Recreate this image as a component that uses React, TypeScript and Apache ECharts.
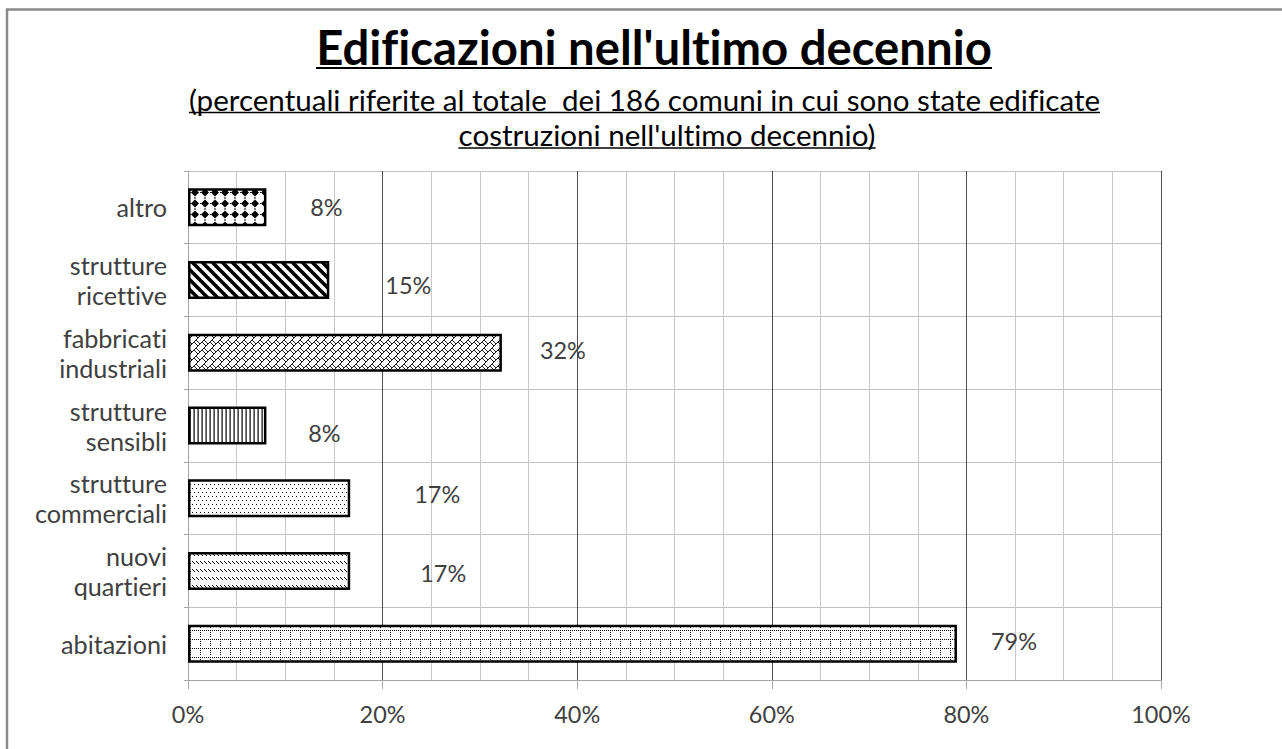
import React, { useEffect, useRef } from "react";
import * as echarts from "echarts";

// ---- data ----
const categories = [
  "altro",
  "strutture\nricettive",
  "fabbricati\nindustriali",
  "strutture\nsensibli",
  "strutture\ncommerciali",
  "nuovi\nquartieri",
  "abitazioni",
];
const values = [8.06, 14.52, 32.26, 8.06, 16.67, 16.67, 79.03];
const axisMin = 0;
const axisMax = 100;
const axisStep = 20;
const titleText = "Edificazioni nell'ultimo decennio";
const subtitleLine1 = "(percentuali riferite al totale  dei 186 comuni in cui sono state edificate";
const subtitleLine2 = "costruzioni nell'ultimo decennio)";

// ---- styling ----
const FONT = "Lato";
const labelNudges: [number, number][] = [
  [60, 0],
  [79, 5],
  [61, -3],
  [58, 7],
  [87, -4],
  [93, 2],
  [57, -3],
];

function svgUrl(w: number, h: number, body: string) {
  const s = `<svg xmlns="http://www.w3.org/2000/svg" width="${w}" height="${h}" viewBox="0 0 ${w} ${h}"><rect width="${w}" height="${h}" fill="#fff"/>${body}</svg>`;
  return "data:image/svg+xml;charset=utf-8," + encodeURIComponent(s);
}
function pat(w: number, h: number, body: string) {
  return { image: svgUrl(w, h, body), repeat: "repeat", imageWidth: w, imageHeight: h };
}

const patterns = [
  // diamonds
  pat(10, 11, `<path d="M5 1.6 L9 5.5 L5 9.4 L1 5.5Z" fill="#000"/><rect x="0" y="5" width="1" height="1" fill="#000"/><rect x="4.5" y="0" width="1" height="1" fill="#000"/><rect x="4.5" y="10" width="1" height="1" fill="#000"/>`),
  // wide downward diagonal
  pat(10, 10, `<path d="M-2 -2 L12 12 M-2 8 L2 12 M8 -2 L12 2" stroke="#000" stroke-width="3.6"/>`),
  // diagonal brick
  pat(8, 8, `<path d="M-1 9 L9 -1 M-1 1 L1 -1 M7 9 L9 7 M4 4 L8 8 M2 -2 L6 2 M2 6 L6 10 M4 -4 L8 0 M-4 4 L0 8" stroke="#000" stroke-width="0.9" fill="none"/>`),
  // vertical lines
  pat(4, 4, `<rect x="1.5" y="0" width="1.2" height="4" fill="#000"/>`),
  // sparse dots
  pat(8, 8, `<rect x="0" y="0" width="1" height="1" fill="#000"/><rect x="4" y="0" width="1" height="1" fill="#000"/><rect x="2" y="4" width="1" height="1" fill="#000"/><rect x="6" y="4" width="1" height="1" fill="#000"/>`),
  // dashed downward diagonal
  pat(4, 8, `<path d="M0 1 L3 4" stroke="#000" stroke-width="1"/>`),
  // dotted grid
  pat(10, 9, `<rect x="0" y="0" width="1" height="1" fill="#000"/><rect x="2" y="0" width="1" height="1" fill="#000"/><rect x="4" y="0" width="1" height="1" fill="#000"/><rect x="6" y="0" width="1" height="1" fill="#000"/><rect x="8" y="0" width="1" height="1" fill="#000"/><rect x="0" y="2" width="1" height="1" fill="#000"/><rect x="0" y="4" width="1" height="1" fill="#000"/><rect x="0" y="6" width="1" height="1" fill="#000"/>`),
];

function measure(text: string, size: number, weight: string) {
  const ctx = document.createElement("canvas").getContext("2d")!;
  ctx.font = `${weight} ${size}px ${FONT}`;
  return ctx.measureText(text).width;
}
function fit(text: string, target: number, weight: string) {
  return (40 * target) / measure(text, 40, weight);
}

export default function App() {
  const ref = useRef<HTMLDivElement>(null);
  useEffect(() => {
    if (!ref.current) return;
    const chart = echarts.init(ref.current, undefined, { renderer: "svg" });

    const titleSize = fit(titleText, 676, "bold");
    const subSize = fit(subtitleLine1, 911, "normal");
    const catSize = fit("abitazioni", 106, "normal");
    const axSize = fit("80%", 46, "normal");

    const sub2W = measure(subtitleLine2, subSize, "normal");
    const sub2C = 667;

    chart.setOption({
      animation: false,
      backgroundColor: "#fff",
      grid: { left: 188, right: 121, top: 171, bottom: 69, containLabel: false },
      xAxis: {
        type: "value",
        min: axisMin,
        max: axisMax,
        interval: axisStep,
        axisLine: { show: true, lineStyle: { color: "#a6a6a6", width: 1 } },
        axisTick: { show: true, length: 9, lineStyle: { color: "#a6a6a6" } },
        axisLabel: {
          formatter: "{value}%",
          color: "#404040",
          fontSize: axSize,
          fontFamily: FONT,
          margin: 22,
        },
        splitLine: { show: true, showMinLine: false, lineStyle: { color: "#4d4d4d", width: 1 } },
        minorTick: { show: false, splitNumber: 4 },
        minorSplitLine: { show: true, lineStyle: { color: "#c8c8c8", width: 1 } },
      },
      yAxis: {
        type: "category",
        data: categories,
        inverse: true,
        axisLine: { show: true, lineStyle: { color: "#a6a6a6", width: 1 } },
        axisTick: { show: true, length: 4, lineStyle: { color: "#a6a6a6" } },
        axisLabel: {
          color: "#404040",
          fontSize: catSize,
          fontFamily: FONT,
          lineHeight: 30,
          margin: 21,
          align: "right",
        },
        splitLine: { show: true, lineStyle: { color: "#c0c0c0", width: 1 } },
      },
      series: [
        {
          type: "bar",
          barWidth: 38,
          silent: true,
          data: values.map((v, i) => ({
            value: v,
            itemStyle: { color: patterns[i], borderColor: "#000", borderWidth: 2.5 },
            label: { offset: labelNudges[i] },
          })),
          label: {
            show: true,
            position: "right",
            distance: 0,
            align: "center",
            verticalAlign: "middle",
            formatter: (p: any) => Math.round(p.value) + "%",
            color: "#404040",
            fontSize: axSize,
            fontFamily: FONT,
          },
        },
      ],
      graphic: [
        {
          type: "rect",
          silent: true,
          shape: { x: 7, y: 9.5, width: 1400, height: 900 },
          style: { fill: "none", stroke: "#8a8a8a", lineWidth: 2.5 },
        },
        {
          type: "text",
          x: 654,
          y: 46,
          style: {
            text: titleText,
            fontSize: titleSize,
            fontWeight: "bold",
            fontFamily: FONT,
            fill: "#000",
            align: "center",
            verticalAlign: "middle",
          },
        },
        {
          type: "line",
          shape: { x1: 316, y1: 68, x2: 992, y2: 68 },
          style: { stroke: "#000", lineWidth: 2 },
        },
        {
          type: "text",
          x: 644.5,
          y: 99,
          style: {
            text: subtitleLine1,
            fontSize: subSize,
            fontFamily: FONT,
            fill: "#000",
            align: "center",
            verticalAlign: "middle",
          },
        },
        {
          type: "line",
          shape: { x1: 189, y1: 112.5, x2: 1100, y2: 112.5 },
          style: { stroke: "#000", lineWidth: 1.5 },
        },
        {
          type: "text",
          x: sub2C,
          y: 134,
          style: {
            text: subtitleLine2,
            fontSize: subSize,
            fontFamily: FONT,
            fill: "#000",
            align: "center",
            verticalAlign: "middle",
          },
        },
        {
          type: "line",
          shape: { x1: sub2C - sub2W / 2, y1: 148, x2: sub2C + sub2W / 2, y2: 148 },
          style: { stroke: "#000", lineWidth: 1.5 },
        },
      ],
    });
    return () => chart.dispose();
  }, []);
  return (
    <div
      ref={ref}
      style={{
        position: "absolute",
        left: 0,
        top: 0,
        width: 1282,
        height: 749,
        background: "#fff",
        fontVariantLigatures: "none",
        fontFeatureSettings: '"liga" 0, "clig" 0',
      }}
    />
  );
}
